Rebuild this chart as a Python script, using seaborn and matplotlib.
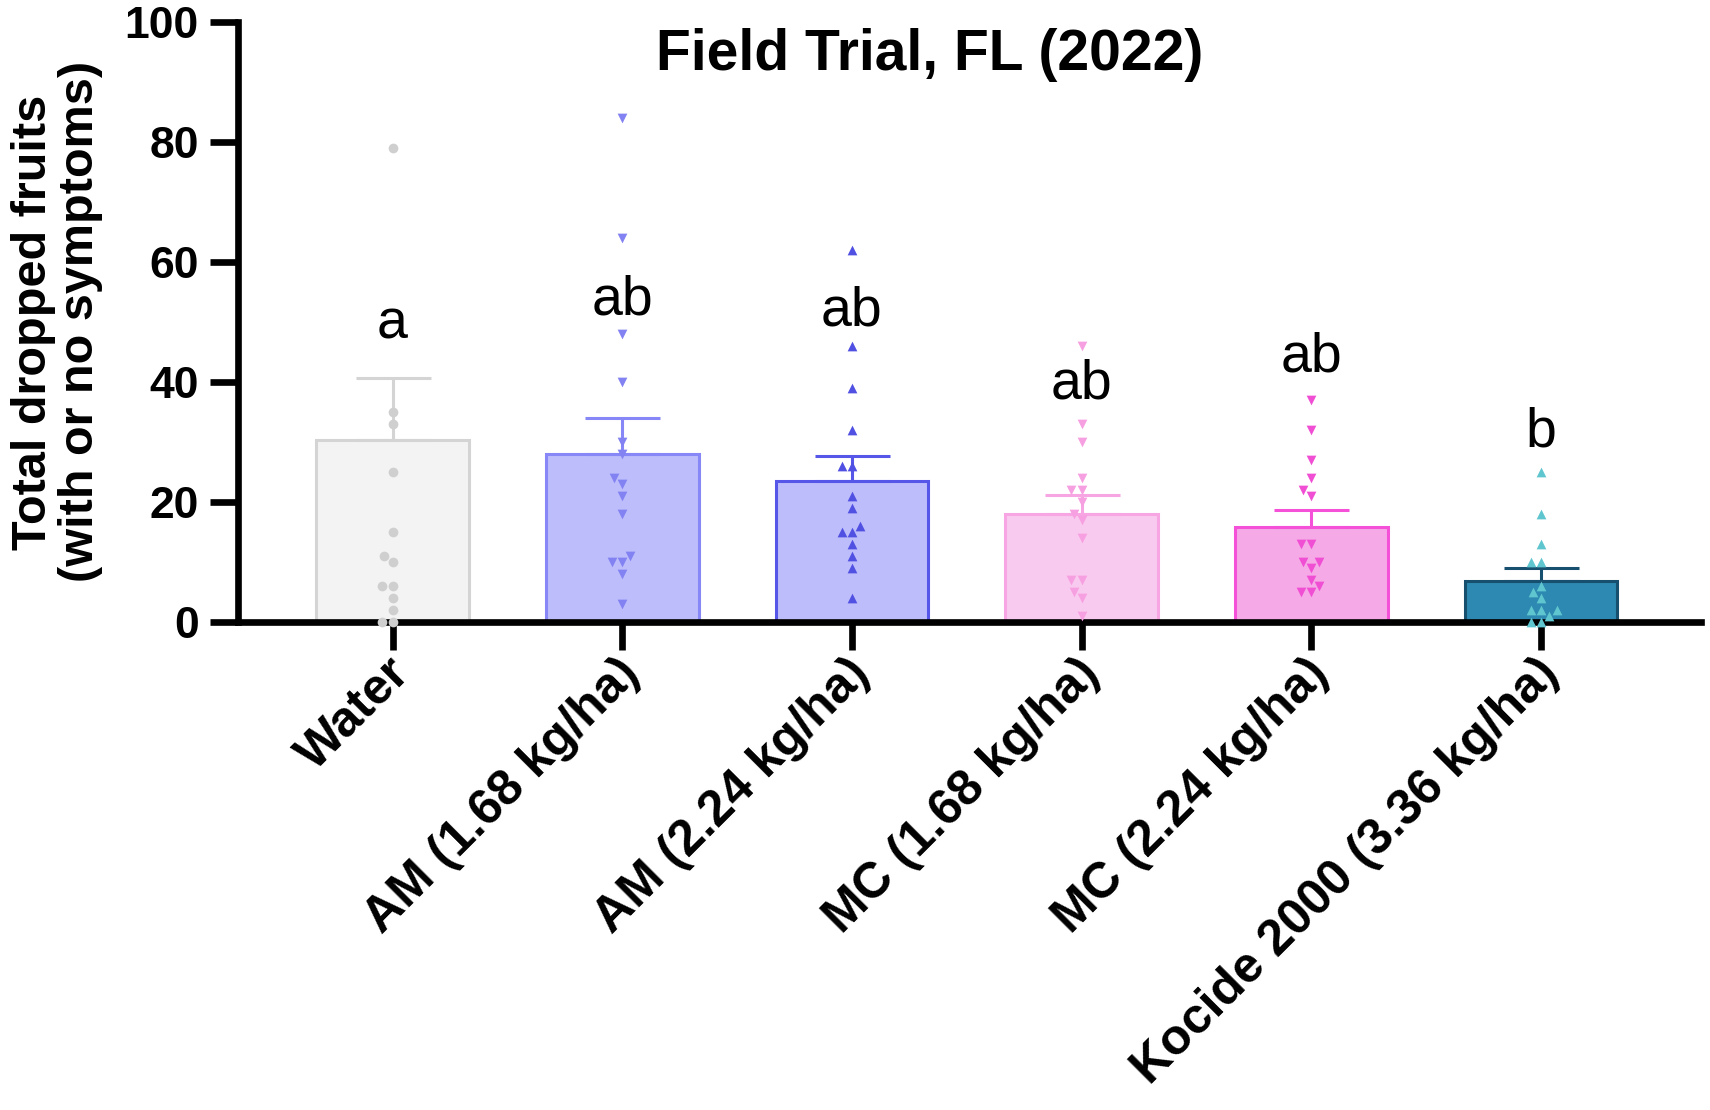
import numpy as np
import pandas as pd
import seaborn as sns
import matplotlib.pyplot as plt
from matplotlib.transforms import ScaledTranslation

# Dados (Field Trial, FL 2022)
groups = ['Water', 'AM (1.68 kg/ha)', 'AM (2.24 kg/ha)',
          'MC (1.68 kg/ha)', 'MC (2.24 kg/ha)', 'Kocide 2000 (3.36 kg/ha)']
means = [30.3, 27.9, 23.5, 17.9, 15.8, 6.8]
sem = [10.3, 6.0, 4.1, 3.2, 2.9, 2.1]
letters = ['a', 'ab', 'ab', 'ab', 'ab', 'b']
letter_y = [49.5, 53.6, 51.8, 39.6, 44.0, 31.6]

pts_water = [79, 35, 33, 25, 15, 11, 10, 6, 6, 4, 2, 0, 0]
pts_am168 = [84, 64, 48, 40, 30, 28, 24, 23, 21, 18, 11, 10, 10, 8, 3]
pts_am224 = [62, 46, 39, 32, 26, 26, 21, 19, 16, 15, 15, 13, 11, 9, 4]
pts_mc168 = [46, 33, 30, 24, 22, 22, 20, 18, 17, 14, 7, 7, 5, 4, 1]
pts_mc224 = [37, 32, 27, 24, 22, 21, 13, 13, 10, 10, 9, 7, 6, 5, 5]
pts_kocide = [25, 18, 13, 10, 10, 6, 5, 4, 2, 2, 2, 1, 0, 0]

# Cores
fill_colors = ['#f3f3f3', '#bdbdfb', '#bdbdfb', '#f9caef', '#f5a9e7', '#2d89b1']
edge_colors = ['#d4d4d4', '#8787f7', '#5656e8', '#f8a5e4', '#f450d8', '#174f6e']
point_colors = ['#cfcfcf', '#8282f2', '#5050e2', '#f7a0e1', '#f04fd3', '#5fc6cf']
markers = ['o', 'v', '^', 'v', 'v', '^']

all_pts = [pts_water, pts_am168, pts_am224, pts_mc168, pts_mc224, pts_kocide]
df_pts = pd.concat([pd.DataFrame({'group': g, 'value': p}) for g, p in zip(groups, all_pts)],
                   ignore_index=True)
df_bar = pd.DataFrame({'group': groups, 'mean': means})

sns.set_style('ticks')
plt.rcParams['font.family'] = ['Liberation Sans', 'DejaVu Sans']
for key in ['text.color', 'axes.labelcolor', 'xtick.color', 'ytick.color', 'axes.edgecolor']:
    plt.rcParams[key] = 'black'

fig = plt.figure(figsize=(17.1, 11.1), dpi=100)
ax = fig.add_axes([0.139, 0.44, 0.856, 0.54])

# Barras
sns.barplot(data=df_bar, x='group', y='mean', hue='group', order=groups,
            palette=fill_colors, legend=False, width=0.665, ax=ax,
            errorbar=None, linewidth=2.2, saturation=1)
for patch, ec in zip(ax.patches, edge_colors):
    patch.set_edgecolor(ec)

# Barras de erro (apenas para cima)
centers = [p.get_x() + p.get_width() / 2 for p in ax.patches]
for xc, m, s, ec in zip(centers, means, sem, edge_colors):
    ax.errorbar(xc, m, yerr=[[0], [s]], fmt='none', ecolor=ec,
                elinewidth=2.2, capsize=27, capthick=2.2, zorder=3)

# Pontos individuais
for g, mk, pc in zip(groups, markers, point_colors):
    sub = df_pts[df_pts['group'] == g]
    sns.swarmplot(data=sub, x='group', y='value', order=groups, marker=mk,
                  color=pc, size=7, linewidth=0, ax=ax, zorder=4, clip_on=False)

# Letras de significância
for xc, lt, ly in zip(centers, letters, letter_y):
    ax.text(xc, ly, lt, ha='center', va='center', fontsize=40, color='black')

ax.text(0.473, 0.945, 'Field Trial, FL (2022)', transform=ax.transAxes,
        ha='center', va='center', fontsize=41, fontweight='bold')

ax.set_xlim(-0.674, 5.698)
ax.set_ylim(0, 100)
ax.set_yticks([0, 20, 40, 60, 80, 100])
ax.set_xlabel('')
ax.set_ylabel('Total dropped fruits\n(with or no symptoms)', fontsize=35,
              fontweight='bold', linespacing=1.05)
ax.yaxis.set_label_coords(-0.092, 0.5)

for side in ['top', 'right']:
    ax.spines[side].set_visible(False)
for side in ['left', 'bottom']:
    ax.spines[side].set_linewidth(4.8)
    ax.spines[side].set_color('black')
ax.tick_params(axis='both', length=20, width=4.8, color='black')
ax.tick_params(axis='y', labelsize=32, pad=8)
ax.tick_params(axis='x', labelsize=36, pad=12)
for lab in ax.get_yticklabels():
    lab.set_fontweight('bold')
ax.set_xticks(range(len(groups)))
ax.set_xticklabels(groups, rotation=45, ha='right', va='center',
                   rotation_mode='anchor', fontweight='bold')
shift = ScaledTranslation(10 / 100, 0, fig.dpi_scale_trans)
for lab in ax.get_xticklabels():
    lab.set_fontsize(36)
    lab.set_transform(lab.get_transform() + shift)

fig.savefig('out.png', dpi=100)
